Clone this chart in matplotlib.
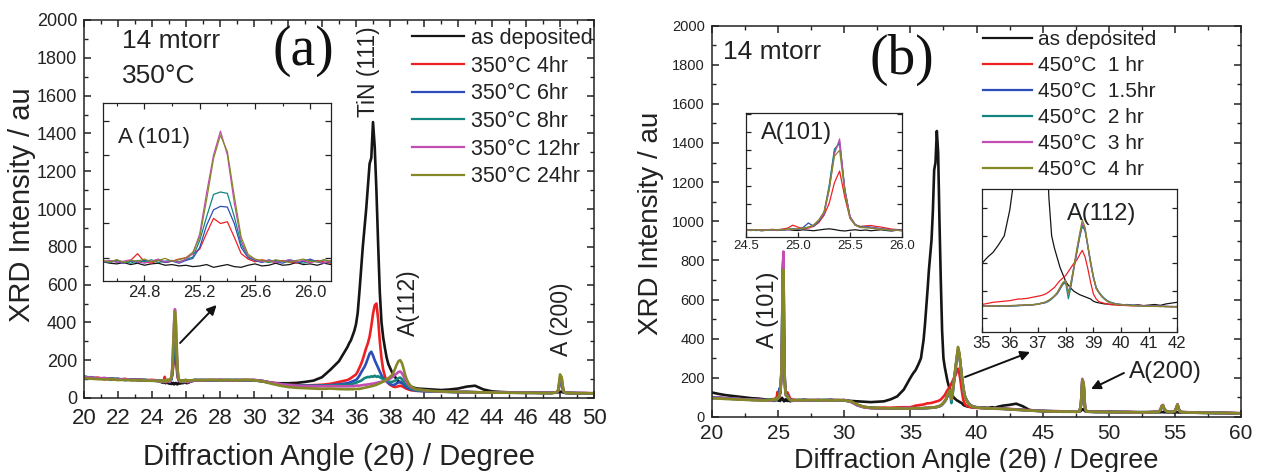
import numpy as np
import matplotlib
matplotlib.use("Agg")
import matplotlib.pyplot as plt
from matplotlib.ticker import MultipleLocator, NullFormatter

plt.rcParams['font.family'] = ['Liberation Sans', 'DejaVu Sans']

W, H, DPI = 1261, 472, 100

# ---------------- panel (a): 14 mtorr, annealed at 350 °C ----------------
two_theta_a = np.concatenate([
    np.arange(20.0, 24.41, 0.4),
    np.arange(24.5, 26.201, 0.05),
    np.arange(26.5, 33.01, 0.5),
    np.arange(33.5, 35.51, 0.5),
    np.arange(35.6, 39.61, 0.1),
    np.arange(40.0, 47.51, 0.5),
    [47.8, 47.9, 48.0, 48.1, 48.2, 48.3],
    [48.5, 49.0, 49.5, 50.0],
]).round(2)

labels_a = ["as deposited", "350°C 4hr", "350°C 6hr", "350°C 8hr",
            "350°C 12hr", "350°C 24hr"]

as_dep_a = [110, 106, 102, 104, 98, 100, 96, 98, 94, 95, 92, 90,
            88, 84, 82, 86, 80, 84, 78, 82, 84, 78, 80, 76, 78, 74, 76, 80, 72, 76,
            80, 74, 72, 78, 82, 76, 78, 84, 78, 80, 86, 80, 82, 78, 84, 80, 86,
            92, 94, 92, 95, 93, 94, 92, 94, 88, 80, 78, 78, 80, 85,
            92, 110, 150, 195, 270,
            290, 305, 330, 355, 390, 450, 560, 680, 800, 900, 1000, 1120, 1240, 1270,
            1460, 1330, 1100, 820, 560, 400, 320, 265, 215, 180, 160, 140, 125, 112,
            95, 88, 84, 80, 76, 72, 68, 65, 60, 58, 55, 52, 50,
            48, 45, 42, 45, 50, 60, 65, 45, 35, 32, 30, 30, 28, 28, 27, 27,
            28, 30, 34, 32, 29, 27,
            26, 25, 25, 24]
a_4hr = [112, 104, 108, 100, 104, 97, 101, 95, 99, 93, 96, 92,
         90, 86, 94, 84, 92, 112, 88, 84, 92, 86, 90, 96, 100, 112, 125, 172, 215, 200,
         205, 160, 112, 96, 88, 94, 90, 86, 92, 88, 84, 90, 86, 92, 88, 84, 88,
         95, 93, 96, 94, 95, 93, 96, 94, 90, 82, 74, 70, 68, 66,
         68, 70, 75, 85, 95,
         100, 105, 112, 118, 125, 140, 160, 180, 205, 235, 265, 290, 325, 380, 445,
         490, 500, 420, 300, 210, 150, 115, 90, 78, 70, 65, 60, 58, 60, 62, 65, 62,
         58, 52, 48, 45, 42, 40, 40, 38, 38,
         37, 35, 34, 33, 32, 32, 31, 30, 30, 29, 29, 28, 28, 28, 27, 27,
         30, 38, 85, 80, 35, 28,
         27, 26, 26, 25]
a_6hr = [108, 110, 102, 105, 99, 102, 95, 98, 96, 94, 93, 90,
         86, 92, 88, 84, 90, 86, 92, 88, 94, 86, 90, 84, 92, 98, 130, 195, 240, 250,
         248, 200, 130, 100, 92, 86, 94, 88, 84, 92, 86, 90, 96, 88, 84, 90, 86,
         94, 96, 93, 95, 94, 96, 93, 95, 90, 80, 72, 68, 66, 65,
         65, 66, 68, 72, 78,
         80, 85, 88, 92, 95, 105, 118, 135, 150, 165, 185, 210, 235, 245, 225, 200,
         180, 160, 140, 120, 105, 95, 88, 80, 75, 70, 68, 72, 78, 82, 85, 80, 72,
         62, 55, 50, 46, 44, 42, 40, 38,
         36, 35, 33, 33, 31, 32, 30, 30, 29, 29, 28, 28, 27, 28, 27, 26,
         30, 38, 90, 82, 35, 27,
         26, 26, 25, 25]
a_8hr = [115, 106, 104, 101, 103, 99, 98, 97, 95, 96, 92, 91,
         90, 86, 92, 88, 84, 92, 88, 94, 86, 90, 92, 88, 95, 102, 150, 220, 285, 292,
         288, 220, 140, 102, 94, 90, 86, 92, 88, 94, 90, 84, 92, 88, 94, 86, 90,
         96, 94, 95, 93, 96, 94, 95, 93, 89, 80, 73, 69, 66, 64,
         64, 65, 66, 68, 70,
         70, 72, 75, 78, 80, 85, 88, 92, 98, 105, 108, 112, 110, 115, 112, 118, 112,
         115, 110, 105, 100, 98, 92, 88, 85, 85, 88, 92, 98, 105, 108, 100, 88, 75,
         65, 58, 52, 48, 45, 42, 40,
         38, 34, 34, 32, 32, 31, 31, 29, 30, 28, 29, 28, 28, 27, 27, 27,
         30, 40, 100, 92, 36, 28,
         27, 26, 25, 25]
a_12hr = [110, 108, 103, 106, 100, 98, 100, 96, 97, 93, 94, 90,
          88, 92, 86, 90, 94, 88, 84, 90, 96, 88, 92, 86, 96, 112, 170, 290, 400, 470,
          400, 260, 150, 105, 95, 88, 92, 86, 90, 94, 88, 92, 86, 90, 84, 92, 88,
          93, 95, 94, 96, 93, 95, 94, 96, 90, 81, 74, 68, 65, 63,
          62, 62, 63, 62, 62,
          62, 63, 62, 64, 65, 66, 65, 67, 68, 70, 70, 72, 73, 75, 76, 78, 80, 82, 84,
          86, 88, 90, 94, 98, 102, 108, 115, 122, 130, 138, 140, 132, 115, 95, 80,
          68, 60, 54, 50, 47, 45,
          40, 36, 34, 33, 32, 31, 30, 30, 29, 29, 28, 28, 28, 27, 28, 27,
          30, 42, 110, 100, 38, 28,
          27, 26, 26, 24]
a_24hr = [105, 102, 100, 98, 99, 95, 96, 93, 94, 92, 91, 90,
          92, 88, 94, 86, 92, 90, 96, 88, 92, 98, 90, 94, 100, 116, 160, 270, 390, 458,
          410, 280, 160, 110, 96, 92, 88, 94, 90, 86, 92, 96, 90, 88, 94, 90, 92,
          95, 94, 96, 94, 95, 94, 96, 94, 88, 76, 66, 58, 54, 52,
          50, 48, 50, 47, 46,
          46, 47, 46, 48, 47, 49, 48, 50, 52, 54, 56, 58, 60, 62, 64, 67, 70, 74, 78,
          82, 87, 92, 98, 104, 112, 120, 135, 155, 178, 195, 200, 185, 155, 120, 95,
          78, 66, 58, 52, 48, 45,
          42, 37, 35, 33, 32, 31, 30, 30, 29, 28, 28, 27, 27, 27, 26, 26,
          30, 45, 125, 110, 40, 28,
          26, 25, 25, 24]

# ---------------- panel (b): 14 mtorr, annealed at 450 °C ----------------
two_theta_b = np.concatenate([
    np.arange(20.0, 24.01, 0.5),
    np.arange(24.5, 26.001, 0.05),
    np.arange(26.5, 34.51, 0.5),
    np.arange(35.0, 35.81, 0.2),
    np.arange(36.0, 39.61, 0.1),
    np.arange(39.8, 42.01, 0.2),
    np.arange(42.5, 47.51, 0.5),
    [47.8, 47.9, 48.0, 48.1, 48.2, 48.3],
    np.arange(48.5, 53.51, 0.5),
    [53.8, 53.9, 54.0, 54.1, 54.2, 54.4, 54.6, 54.8, 55.0, 55.1, 55.2, 55.3, 55.4],
    [55.6, 56.0, 56.5, 57.0, 57.5, 58.0, 58.5, 59.0, 59.5, 60.0],
]).round(2)

labels_b = ["as deposited", "450°C  1 hr", "450°C  1.5hr", "450°C  2 hr",
            "450°C  3 hr", "450°C  4 hr"]

as_dep_b = [125, 118, 112, 108, 104, 100, 96, 94, 90,
            86, 84, 88, 82, 86, 90, 84, 88, 92, 86, 84, 90, 86, 82, 88, 94, 98, 92, 84,
            80, 86, 90, 84, 88, 82, 86, 90, 84, 80, 86, 82,
            86, 88, 85, 87, 86, 88, 85, 86, 82, 80, 78, 76, 78, 80, 90, 105, 140,
            200, 222, 240, 268, 300,
            395, 470, 560, 650, 750, 830, 905, 1050, 1262, 1300, 1461, 1350, 1000, 700,
            440, 300, 255, 220, 185, 160, 135, 120, 108, 98, 92, 86, 82, 78, 74, 70,
            62, 58, 56, 54, 52, 52, 50,
            50, 48, 50, 47, 49, 46, 48, 50, 47, 52, 55, 58,
            62, 68, 55, 36, 32, 30, 28, 28, 27, 27, 27,
            28, 32, 40, 38, 30, 27,
            27, 26, 26, 26, 25, 25, 25, 24, 24, 24, 25,
            24, 24, 25, 25, 24, 24, 23, 23, 23, 24, 24, 23, 23,
            23, 22, 22, 21, 21, 20, 20, 19, 19, 18]
b_1hr = [102, 98, 96, 94, 92, 90, 89, 88, 86,
         88, 92, 86, 90, 88, 94, 90, 96, 104, 128, 112, 98, 104, 118, 150, 210, 310,
         480, 578, 360, 185, 130, 118, 122, 126, 118, 112, 104, 96, 92, 90,
         86, 84, 87, 85, 86, 84, 87, 85, 80, 62, 52, 48, 47, 48, 47, 49, 50,
         50, 54, 58, 60, 62,
         64, 66, 68, 70, 70, 71, 72, 74, 76, 78, 80, 82, 85, 89, 96, 104, 112, 125,
         137, 146, 155, 170, 185, 200, 211, 230, 247, 223, 180, 130, 88, 70, 60, 57,
         54, 52, 50,
         48, 47, 46, 45, 46, 44, 45, 43, 44, 42, 43, 42,
         41, 39, 37, 35, 33, 31, 30, 30, 29, 28, 28,
         30, 60, 175, 160, 50, 29,
         28, 27, 26, 27, 26, 25, 26, 25, 24, 25, 26,
         27, 34, 50, 57, 38, 27, 26, 25, 29, 44, 60, 38, 26,
         25, 24, 23, 23, 22, 22, 21, 22, 20, 19]
b_15hr = [98, 100, 94, 95, 90, 91, 87, 88, 85,
          86, 90, 88, 84, 90, 86, 92, 88, 92, 96, 94, 110, 146, 120, 160, 220, 440,
          740, 820, 430, 200, 135, 110, 118, 112, 106, 98, 94, 90, 88, 86,
          85, 87, 84, 86, 85, 87, 84, 86, 78, 60, 50, 46, 45, 44, 43, 44, 45,
          45, 44, 46, 43, 45,
          44, 46, 45, 47, 46, 48, 47, 49, 48, 50, 52, 53, 55, 58, 64, 71, 80, 89,
          105, 125, 137, 92, 130, 186, 240, 296, 340, 320, 259, 200, 149, 110, 94,
          80, 70, 63, 58,
          52, 50, 48, 47, 46, 45, 44, 45, 43, 44, 42, 43,
          40, 38, 36, 34, 32, 31, 30, 29, 29, 28, 27,
          29, 65, 185, 170, 55, 28,
          27, 26, 27, 26, 25, 26, 25, 24, 25, 24, 25,
          28, 35, 52, 59, 40, 28, 26, 26, 30, 45, 63, 40, 27,
          24, 24, 23, 22, 22, 21, 21, 20, 20, 19]
b_2hr = [100, 96, 97, 92, 93, 88, 89, 86, 87,
         90, 86, 84, 90, 86, 88, 90, 86, 94, 98, 96, 100, 112, 126, 165, 230, 460,
         760, 810, 420, 195, 130, 112, 110, 106, 100, 96, 90, 88, 86, 84,
         87, 85, 86, 84, 87, 85, 86, 84, 79, 61, 51, 47, 45, 44, 44, 43, 44,
         44, 46, 43, 45, 44,
         45, 44, 46, 45, 47, 46, 48, 47, 49, 50, 51, 54, 55, 57, 62, 70, 79, 90,
         108, 122, 130, 71, 118, 180, 236, 290, 335, 318, 262, 205, 152, 112, 95,
         82, 72, 64, 59,
         53, 50, 49, 47, 45, 46, 44, 43, 44, 42, 43, 41,
         39, 38, 35, 34, 32, 30, 30, 29, 28, 28, 28,
         30, 62, 180, 165, 52, 28,
         28, 26, 26, 25, 26, 25, 24, 25, 24, 25, 25,
         27, 34, 51, 58, 39, 27, 25, 26, 29, 44, 62, 39, 26,
         25, 23, 23, 22, 21, 21, 21, 20, 19, 19]
b_3hr = [96, 99, 95, 93, 92, 89, 88, 87, 85,
         84, 88, 90, 86, 92, 88, 86, 92, 90, 94, 98, 102, 108, 128, 168, 225, 420,
         720, 845, 420, 200, 130, 108, 112, 108, 102, 96, 92, 88, 86, 84,
         84, 86, 85, 87, 84, 86, 85, 87, 77, 59, 49, 45, 44, 43, 45, 44, 46,
         46, 45, 44, 46, 45,
         46, 45, 47, 46, 48, 47, 49, 48, 50, 49, 51, 53, 56, 59, 65, 72, 81, 92,
         110, 128, 135, 90, 128, 184, 242, 300, 345, 325, 262, 198, 146, 108, 92,
         79, 70, 62, 57,
         52, 49, 48, 46, 47, 45, 44, 43, 44, 43, 42, 42,
         40, 37, 36, 33, 32, 31, 29, 29, 28, 27, 28,
         29, 66, 195, 175, 56, 29,
         27, 27, 26, 26, 25, 25, 25, 24, 24, 24, 26,
         28, 38, 58, 62, 42, 28, 26, 27, 32, 48, 66, 42, 27,
         25, 24, 22, 22, 22, 21, 20, 20, 20, 18]
b_4hr = [94, 95, 92, 91, 89, 88, 86, 85, 84,
         88, 86, 90, 88, 86, 92, 88, 90, 96, 92, 100, 104, 112, 130, 172, 240, 430,
         700, 752, 400, 190, 128, 110, 106, 104, 98, 94, 90, 88, 86, 85,
         86, 85, 87, 85, 86, 84, 86, 85, 80, 63, 52, 47, 46, 45, 44, 45, 43,
         43, 45, 44, 46, 44,
         45, 47, 46, 48, 47, 49, 48, 50, 49, 51, 50, 55, 57, 60, 66, 73, 82, 94,
         112, 130, 137, 92, 134, 190, 250, 305, 358, 330, 265, 200, 148, 108, 92,
         78, 69, 61, 56,
         51, 49, 47, 46, 45, 44, 43, 44, 42, 43, 41, 42,
         39, 37, 35, 33, 31, 30, 29, 28, 28, 27, 27,
         30, 64, 190, 172, 54, 28,
         27, 26, 26, 25, 25, 25, 24, 24, 24, 24, 25,
         28, 36, 54, 60, 41, 28, 26, 26, 31, 46, 64, 41, 27,
         24, 23, 23, 22, 21, 21, 20, 20, 19, 18]

series_a = [as_dep_a, a_4hr, a_6hr, a_8hr, a_12hr, a_24hr]
series_b = [as_dep_b, b_1hr, b_15hr, b_2hr, b_3hr, b_4hr]
colors = ['#151515', '#ee2024', '#2c4db8', '#11857e', '#c24db3', '#858827']

TXT = '#222222'

fig = plt.figure(figsize=(W / DPI, H / DPI), dpi=DPI)


def px_axes(x0, y0, x1, y1):
    """Axes placed by its pixel box (left, top, right, bottom)."""
    return fig.add_axes([x0 / W, 1 - y1 / H, (x1 - x0) / W, (y1 - y0) / H])


def style(ax, lw=1.1, major=5, minor=3, size=12, pad=4):
    for s in ax.spines.values():
        s.set_linewidth(lw)
        s.set_color('#222222')
    ax.tick_params(which='both', direction='in', top=True, right=True,
                   colors='#222222', labelcolor=TXT)
    ax.tick_params(which='major', length=major, width=lw, labelsize=size, pad=pad)
    ax.tick_params(which='minor', length=minor, width=lw * 0.9)


def draw(ax, x, series, lw, labels=None):
    handles = []
    for i, (ys, c) in enumerate(zip(series, colors)):
        h, = ax.plot(x, ys, color=c, lw=lw,
                     label=None if labels is None else labels[i])
        handles.append(h)
    return handles


arrow_kw = dict(arrowstyle='-|>', color='#111111', lw=1.4, mutation_scale=14,
                shrinkA=0, shrinkB=0)

# ---------------- main axes (a) ----------------
ax_a = px_axes(84, 20, 594, 398)
h_a = draw(ax_a, two_theta_a, series_a, 1.9, labels_a)
ax_a.set_xlim(20, 50)
ax_a.set_ylim(0, 2000)
ax_a.xaxis.set_major_locator(MultipleLocator(2))
ax_a.xaxis.set_minor_locator(MultipleLocator(1))
ax_a.yaxis.set_major_locator(MultipleLocator(200))
ax_a.yaxis.set_minor_locator(MultipleLocator(100))
style(ax_a, size=13)
ax_a.tick_params(axis='x', labelsize=16, pad=7)
ax_a.tick_params(axis='y', pad=5)
leg = ax_a.legend(handles=h_a, loc='upper left', bbox_to_anchor=(412 / W, 1 - 28 / H),
                  bbox_transform=fig.transFigure, frameon=False, fontsize=15.5,
                  handlelength=2.4, handletextpad=0.35, labelspacing=0.31,
                  borderpad=0, borderaxespad=0)
for t in leg.get_texts():
    t.set_color(TXT)
for ln in leg.get_lines():
    ln.set_linewidth(1.6)

ax_a.text(0.0745, 0.926, "14 mtorr", transform=ax_a.transAxes, fontsize=19,
          color=TXT, va='baseline', ha='left')
ax_a.text(0.0745, 0.833, "350°C", transform=ax_a.transAxes, fontsize=19,
          color=TXT, va='baseline', ha='left')
ax_a.text(0.431, 0.918, "(a)", transform=ax_a.transAxes, fontsize=40,
          family='Liberation Serif', color='#111111', ha='center', va='center')
ax_a.text(36.75, 1725, "TiN (111)", rotation=90, fontsize=16.5, color=TXT,
          ha='center', va='center')
ax_a.text(39.1, 505, "A(112)", rotation=90, fontsize=16.5, color=TXT,
          ha='center', va='center')
ax_a.text(48.1, 418, "A (200)", rotation=90, fontsize=16.5, color=TXT,
          ha='center', va='center')
ax_a.annotate("", xy=(27.8, 492), xytext=(25.65, 291), arrowprops=arrow_kw)

fig.text(22 / W, 1 - 205 / H, "XRD Intensity / au", rotation=90, fontsize=21,
         color=TXT, ha='center', va='center')
fig.text(339 / W, 1 - 457 / H, "Diffraction Angle (2θ) / Degree", fontsize=21,
         color=TXT, ha='center', va='center')

# inset: A(101) region of panel (a)
in_a = px_axes(103, 103, 331, 281)
draw(in_a, two_theta_a, series_a, 0.9)
in_a.set_xlim(24.5, 26.15)
in_a.set_ylim(32, 552)
in_a.xaxis.set_major_locator(MultipleLocator(0.4))
in_a.xaxis.set_minor_locator(MultipleLocator(0.2))
in_a.yaxis.set_major_locator(MultipleLocator(100))
in_a.yaxis.set_major_formatter(NullFormatter())
style(in_a, lw=0.9, major=4, minor=2.5, size=12, pad=3)
in_a.text(0.066, 0.775, "A (101)", transform=in_a.transAxes, fontsize=16,
          color=TXT, va='baseline', ha='left')

# ---------------- main axes (b) ----------------
ax_b = px_axes(712, 25.5, 1241, 417)
h_b = draw(ax_b, two_theta_b, series_b, 1.9, labels_b)
ax_b.set_xlim(20, 60)
ax_b.set_ylim(0, 2000)
ax_b.xaxis.set_major_locator(MultipleLocator(5))
ax_b.xaxis.set_minor_locator(MultipleLocator(2.5))
ax_b.yaxis.set_major_locator(MultipleLocator(200))
ax_b.yaxis.set_minor_locator(MultipleLocator(100))
style(ax_b, size=10.5)
ax_b.tick_params(axis='x', labelsize=15, pad=5)
ax_b.tick_params(axis='y', pad=5)
leg = ax_b.legend(handles=h_b, loc='upper left', bbox_to_anchor=(983 / W, 1 - 30 / H),
                  bbox_transform=fig.transFigure, frameon=False, fontsize=15,
                  handlelength=2.35, handletextpad=0.3, labelspacing=0.34,
                  borderpad=0, borderaxespad=0)
for t in leg.get_texts():
    t.set_color(TXT)
for ln in leg.get_lines():
    ln.set_linewidth(1.6)

ax_b.text(0.0208, 0.914, "14 mtorr", transform=ax_b.transAxes, fontsize=19,
          color=TXT, va='baseline', ha='left')
ax_b.text(0.359, 0.912, "(b)", transform=ax_b.transAxes, fontsize=40,
          family='Liberation Serif', color='#111111', ha='center', va='center')
ax_b.text(24.2, 547, "A (101)", rotation=90, fontsize=17, color=TXT,
          ha='center', va='center')
ax_b.text(54.25, 230, "A(200)", fontsize=17.5, color=TXT, ha='center', va='center')
ax_b.annotate("", xy=(44.05, 332), xytext=(39.13, 204), arrowprops=arrow_kw)
ax_b.annotate("", xy=(48.66, 143), xytext=(51.15, 225), arrowprops=arrow_kw)

fig.text(651 / W, 1 - 223 / H, "XRD Intensity / au", rotation=90, fontsize=20,
         color=TXT, ha='center', va='center')
fig.text(976 / W, 1 - 461 / H, "Diffraction Angle (2θ) / Degree", fontsize=19.5,
         color=TXT, ha='center', va='center')

# inset: A(101) region of panel (b)
in_b1 = px_axes(746, 113, 902, 237)
draw(in_b1, two_theta_b, series_b, 0.9)
in_b1.set_xlim(24.5, 26.0)
in_b1.set_ylim(30, 1060)
in_b1.xaxis.set_major_locator(MultipleLocator(0.5))
in_b1.yaxis.set_major_locator(MultipleLocator(150))
in_b1.yaxis.set_major_formatter(NullFormatter())
style(in_b1, lw=0.9, major=3.5, minor=2, size=9.5, pad=2)
in_b1.tick_params(top=False)
in_b1.text(0.096, 0.79, "A(101)", transform=in_b1.transAxes, fontsize=17,
           color=TXT, va='baseline', ha='left')

# inset: A(112) region of panel (b)
in_b2 = px_axes(982, 189, 1177, 332)
draw(in_b2, two_theta_b, series_b, 0.9)
in_b2.set_xlim(35, 42)
in_b2.set_ylim(-50, 470)
in_b2.xaxis.set_major_locator(MultipleLocator(1))
in_b2.yaxis.set_major_locator(MultipleLocator(100))
in_b2.yaxis.set_major_formatter(NullFormatter())
style(in_b2, lw=0.9, major=3.5, minor=2, size=12, pad=3)
in_b2.tick_params(top=False)
in_b2.text(0.436, 0.783, "A(112)", transform=in_b2.transAxes, fontsize=17,
           color=TXT, va='baseline', ha='left')

fig.savefig("out.png", dpi=DPI)
